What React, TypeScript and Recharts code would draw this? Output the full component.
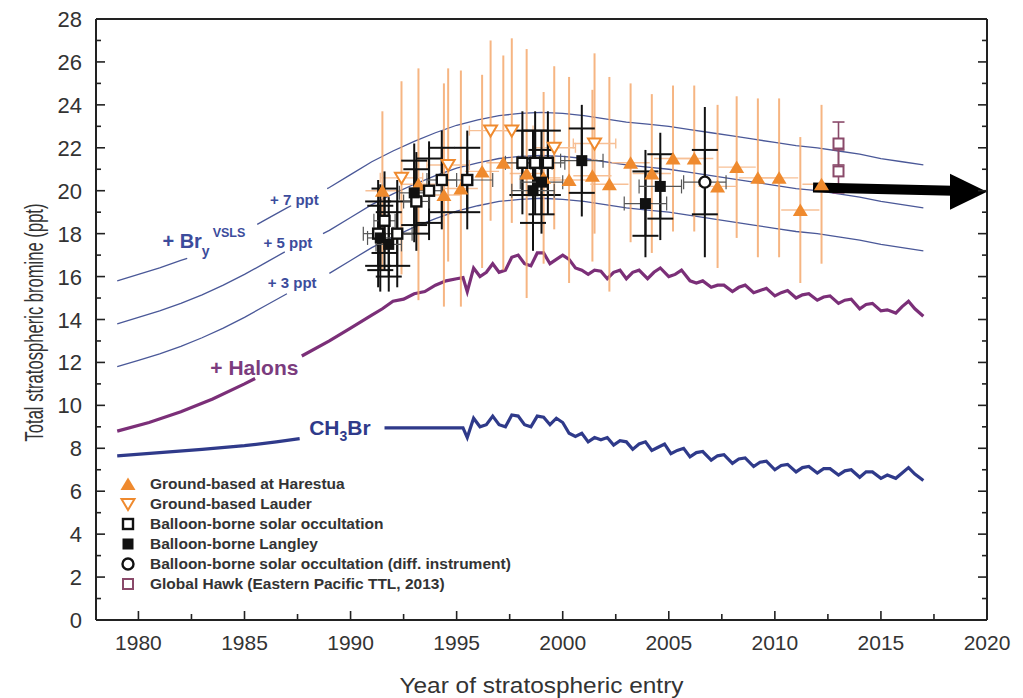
import { ComposedChart, Line, Scatter, XAxis, YAxis, ErrorBar } from "recharts";

// ---- axis ticks ----
const xTicks = [1980, 1982.5, 1985, 1987.5, 1990, 1992.5, 1995, 1997.5, 2000, 2002.5, 2005, 2007.5, 2010, 2012.5, 2015, 2017.5, 2020];
const yTicks = [0, 1, 2, 3, 4, 5, 6, 7, 8, 9, 10, 11, 12, 13, 14, 15, 16, 17, 18, 19, 20, 21, 22, 23, 24, 25, 26, 27, 28];

// ---- model curves: [year, ppt] (null = gap for a label) ----
const ch3br: [number, number | null][] = [
  [1979, 7.65], [1981, 7.8], [1983, 7.95], [1985, 8.12], [1986.5, 8.3], [1987.6, 8.45], [1989, null],
  [1991.6, 8.95], [1995.3, 8.95], [1995.5, 8.5], [1995.8, 9.4], [1996.1, 9.0], [1996.4, 9.1], [1996.7, 9.5],
  [1997.0, 9.1], [1997.3, 9.0], [1997.6, 9.55], [1997.9, 9.5], [1998.2, 9.1], [1998.5, 9.0], [1998.8, 9.5],
  [1999.1, 9.45], [1999.4, 9.1], [1999.7, 9.4], [2000.0, 9.2], [2000.3, 8.7], [2000.6, 8.55], [2000.9, 8.7],
  [2001.2, 8.3], [2001.5, 8.5], [2001.8, 8.4], [2002.1, 8.5], [2002.4, 8.15], [2002.7, 8.35], [2003.0, 8.3],
  [2003.3, 7.95], [2003.6, 8.2], [2003.9, 8.3], [2004.2, 7.9], [2004.5, 8.05], [2004.8, 8.2], [2005.1, 7.75],
  [2005.4, 7.9], [2005.7, 8.0], [2006.0, 7.6], [2006.3, 7.8], [2006.6, 7.85], [2007.0, 7.45], [2007.3, 7.65],
  [2007.6, 7.7], [2008.0, 7.3], [2008.3, 7.5], [2008.6, 7.55], [2009.0, 7.15], [2009.3, 7.35], [2009.6, 7.4],
  [2010.0, 7.0], [2010.3, 7.2], [2010.6, 7.25], [2011.0, 6.9], [2011.3, 7.1], [2011.6, 7.15], [2012.0, 6.85],
  [2012.3, 7.05], [2012.6, 7.05], [2013.0, 6.75], [2013.3, 6.95], [2013.6, 7.0], [2014.0, 6.65], [2014.3, 6.9],
  [2014.6, 6.9], [2015.0, 6.6], [2015.3, 6.75], [2015.7, 6.6], [2016.0, 6.85], [2016.3, 7.1], [2016.6, 6.8],
  [2017.0, 6.5],
];

const halons: [number, number | null][] = [
  [1979, 8.8], [1980.5, 9.2], [1982, 9.7], [1983.5, 10.3], [1985, 11.0], [1985.5, 11.25], [1986.5, null],
  [1987.7, 12.3], [1989, 13.0], [1990, 13.6], [1991, 14.2], [1991.5, 14.5], [1992, 14.85], [1992.5, 14.95],
  [1993, 15.2], [1993.5, 15.3], [1994, 15.6], [1994.5, 15.8], [1995, 15.9], [1995.3, 15.95], [1995.5, 15.3],
  [1995.8, 16.4], [1996.1, 16.0], [1996.4, 16.2], [1996.7, 16.6], [1997.0, 16.2], [1997.3, 16.3], [1997.6, 16.9],
  [1997.9, 17.0], [1998.2, 16.6], [1998.5, 16.5], [1998.8, 17.1], [1999.1, 17.1], [1999.4, 16.6], [1999.7, 16.8],
  [2000.0, 17.0], [2000.3, 16.8], [2000.6, 16.4], [2000.9, 16.3], [2001.2, 16.1], [2001.5, 16.3], [2001.8, 16.25],
  [2002.1, 15.9], [2002.4, 16.2], [2002.7, 16.3], [2003.0, 15.9], [2003.3, 16.2], [2003.6, 16.3], [2004.0, 15.9],
  [2004.3, 16.2], [2004.6, 16.4], [2005.0, 16.0], [2005.3, 16.1], [2005.6, 16.3], [2006.0, 15.8], [2006.3, 15.7],
  [2006.6, 15.8], [2007.0, 15.5], [2007.3, 15.6], [2007.6, 15.6], [2008.0, 15.3], [2008.3, 15.5], [2008.6, 15.6],
  [2009.0, 15.25], [2009.3, 15.35], [2009.6, 15.45], [2010.0, 15.1], [2010.3, 15.25], [2010.6, 15.35],
  [2011.0, 15.0], [2011.3, 15.15], [2011.6, 15.2], [2012.0, 14.9], [2012.3, 15.05], [2012.6, 15.1],
  [2013.0, 14.75], [2013.3, 14.9], [2013.6, 14.95], [2014.0, 14.5], [2014.3, 14.7], [2014.6, 14.75],
  [2015.0, 14.4], [2015.3, 14.45], [2015.7, 14.3], [2016.0, 14.6], [2016.3, 14.85], [2016.6, 14.5], [2017.0, 14.15],
];

const vsls3: [number, number | null][] = [
  [1979, 11.8], [1980, 12.1], [1981, 12.4], [1982, 12.75], [1983, 13.15], [1984, 13.6], [1985, 14.1], [1986, 14.65],
  [1987, 15.2], [1988, null], [1989, 16.15], [1990, 16.75], [1991, 17.35], [1992, 17.85], [1993, 18.3], [1994, 18.7],
  [1995, 19.05], [1996, 19.3], [1997, 19.5], [1998, 19.6], [1999, 19.65], [2000, 19.6], [2001, 19.5], [2002, 19.35],
  [2003, 19.2], [2004, 19.1], [2005, 19.0], [2006, 18.85], [2007, 18.7], [2008, 18.55], [2009, 18.4], [2010, 18.25],
  [2011, 18.1], [2012, 18.0], [2013, 17.85], [2014, 17.7], [2015, 17.5], [2016, 17.35], [2017, 17.2],
];

const vsls5: [number, number | null][] = [
  [1979, 13.8], [1980, 14.1], [1981, 14.4], [1982, 14.75], [1983, 15.15], [1984, 15.6], [1985, 16.1], [1986, 16.65],
  [1986.9, 17.15], [1988, null], [1988.7, 18.0], [1989, 18.15], [1990, 18.75], [1991, 19.35], [1992, 19.85],
  [1993, 20.3], [1994, 20.7], [1995, 21.05], [1996, 21.3], [1997, 21.5], [1998, 21.6], [1999, 21.65], [2000, 21.6],
  [2001, 21.5], [2002, 21.35], [2003, 21.2], [2004, 21.1], [2005, 21.0], [2006, 20.85], [2007, 20.7], [2008, 20.55],
  [2009, 20.4], [2010, 20.25], [2011, 20.1], [2012, 20.0], [2013, 19.85], [2014, 19.7], [2015, 19.5], [2016, 19.35],
  [2017, 19.2],
];

const vsls7: [number, number | null][] = [
  [1979, 15.8], [1980, 16.1], [1981, 16.4], [1982, 16.75], [1982.3, 16.85], [1983.5, null], [1985.6, 18.43],
  [1986, 18.65], [1987, 19.2], [1987.2, 19.3], [1988, null], [1988.9, 20.1], [1989, 20.15], [1990, 20.75],
  [1991, 21.35], [1992, 21.85], [1993, 22.3], [1994, 22.7], [1995, 23.05], [1996, 23.3], [1997, 23.5], [1998, 23.6],
  [1999, 23.65], [2000, 23.6], [2001, 23.5], [2002, 23.35], [2003, 23.2], [2004, 23.1], [2005, 23.0], [2006, 22.85],
  [2007, 22.7], [2008, 22.55], [2009, 22.4], [2010, 22.25], [2011, 22.1], [2012, 22.0], [2013, 21.85], [2014, 21.7],
  [2015, 21.5], [2016, 21.35], [2017, 21.2],
];

// ---- observations: [year, ppt, y error, x error] ----
const harestua: number[][] = [
  [1991.5, 20.0, 3.7, 0.8], [1993.2, 20.3, 5.4, 0.8], [1994.4, 19.8, 5.2, 0.8], [1995.2, 20.1, 5.5, 0.8],
  [1996.2, 20.9, 4.5, 0.8], [1997.2, 21.3, 5.0, 0.8], [1998.3, 20.8, 5.8, 0.8], [1999.1, 20.6, 4.0, 0.8],
  [2000.3, 20.5, 4.8, 0.9], [2001.4, 20.7, 4.0, 0.9], [2002.2, 20.3, 5.0, 0.9], [2003.2, 21.3, 3.7, 0.9],
  [2004.2, 20.8, 3.7, 0.9], [2005.2, 21.5, 3.4, 0.9], [2006.2, 21.5, 3.4, 0.9], [2007.3, 20.2, 3.8, 0.9],
  [2008.2, 21.1, 3.3, 0.9], [2009.2, 20.6, 3.7, 0.9], [2010.2, 20.6, 3.7, 0.9], [2011.2, 19.1, 3.4, 0.9],
  [2012.2, 20.3, 3.7, 0.9],
];
const lauder: number[][] = [
  [1992.4, 20.6, 4.5, 1.0], [1994.6, 21.2, 4.5, 1.0], [1996.6, 22.8, 4.2, 1.0], [1997.6, 22.8, 4.3, 1.0],
  [1999.6, 22.0, 3.8, 1.0], [2001.5, 22.2, 4.2, 1.0],
];
// [year, ppt, capped y error, long y error, x error]
const solarOcc: number[][] = [
  [1991.3, 18.0, 1.5, 2.5, 0.7], [1991.6, 18.6, 1.5, 2.3, 0.5], [1992.2, 18.0, 1.5, 2.5, 0.7],
  [1993.1, 19.5, 1.5, 2.3, 0.6], [1993.7, 20.0, 1.5, 2.3, 0.6], [1994.3, 20.5, 1.5, 2.3, 0.7],
  [1995.5, 20.5, 1.5, 2.3, 1.2], [1998.1, 21.3, 1.5, 2.4, 0.8], [1998.7, 21.3, 1.5, 2.4, 0.8],
  [1999.3, 21.3, 1.5, 2.4, 0.8],
];
const langley: number[][] = [
  [1991.4, 17.8, 1.5, 2.5, 0.6], [1991.8, 17.5, 1.5, 2.2, 0.6], [1993.0, 19.9, 1.5, 2.3, 0.7],
  [1998.6, 20.0, 1.5, 2.8, 1.0], [1999.0, 20.4, 1.5, 2.4, 1.0], [2000.9, 21.4, 1.5, 2.6, 1.0],
  [2003.9, 19.4, 1.5, 2.5, 1.0], [2004.6, 20.2, 1.5, 2.5, 1.0],
];
const diffInstr: number[][] = [[2006.7, 20.4, 1.5, 3.5, 1.0]];
const globalHawk: number[][] = [[2013.0, 22.2, 1.0, 0.15], [2013.0, 20.9, 1.0, 0.15]];

// arrow annotation
const arrowShaft: [number, number][] = [[2011.8, 20.15], [2018.4, 20.0]];
const arrowTip: [number, number][] = [[2020, 19.95]];

// in-plot labels: [year, ppt, kind]
const plotLabels: [number, number, string][] = [
  [1981.13, 17.35, "bry"],
  [1986.2, 19.35, "p7"],
  [1985.9, 17.35, "p5"],
  [1986.1, 15.45, "p3"],
  [1983.39, 11.4, "halons"],
  [1988.05, 8.6, "ch3br"],
];

const legendItems = [
  { name: "Ground-based at Harestua", marker: "triUp" },
  { name: "Ground-based Lauder", marker: "triDown" },
  { name: "Balloon-borne solar occultation", marker: "sqOpen" },
  { name: "Balloon-borne Langley", marker: "sqFilled" },
  { name: "Balloon-borne solar occultation (diff. instrument)", marker: "circle" },
  { name: "Global Hawk (Eastern Pacific TTL, 2013)", marker: "sqHawk" },
];

const AXIS = "#222";
const ORANGE = "#ef8a2e";
const ORANGE_BAR = "#f4a86c";
const ORANGE_HBAR = "#f7c096";
const NAVY = "#2f3a8a";
const PURPLE = "#7b2f78";
const THIN = "#4a5898";
const TEXT_BLUE = "#3c4c9c";
const HAWK = "#8a4a6a";
const SANS = "'Liberation Sans', Arial, sans-serif";

const toLine = (rows: [number, number | null][]) => rows.map(([x, y]) => ({ x, y }));
const toPts = (rows: number[][]) => rows.map(([x, y, ey, ex]) => ({ x, y, ey, ex }));
const toPts2 = (rows: number[][]) => rows.map(([x, y, ey, ey2, ex]) => ({ x, y, ey, ey2, ex }));

function Marker({ kind, cx, cy }: { kind: string; cx: number; cy: number }) {
  switch (kind) {
    case "triUp":
      return <polygon points={`${cx},${cy - 6.5} ${cx + 7.5},${cy + 6} ${cx - 7.5},${cy + 6}`} fill={ORANGE} />;
    case "triDown":
      return (
        <polygon points={`${cx - 6.5},${cy - 5} ${cx + 6.5},${cy - 5} ${cx},${cy + 6}`} fill="#fff" stroke={ORANGE} strokeWidth={2} />
      );
    case "sqOpen":
      return <rect x={cx - 5} y={cy - 5} width={10} height={10} fill="#fff" stroke="#111" strokeWidth={2.4} />;
    case "sqFilled":
      return <rect x={cx - 5.5} y={cy - 5.5} width={11} height={11} fill="#111" />;
    case "circle":
      return <circle cx={cx} cy={cy} r={5.5} fill="#fff" stroke="#111" strokeWidth={2.4} />;
    case "sqHawk":
      return <rect x={cx - 5} y={cy - 5} width={10} height={10} fill="#fff" stroke={HAWK} strokeWidth={2} />;
    default:
      return null;
  }
}

const shapeFor = (kind: string) => (p: any) => <Marker kind={kind} cx={p.cx} cy={p.cy} />;

function PlotLabel(p: any) {
  const kind = p.payload.kind;
  const { cx, cy } = p;
  if (kind === "bry") {
    return (
      <text x={cx} y={cy} fill={TEXT_BLUE} fontFamily={SANS} fontWeight="bold" fontSize={20}>
        + Br
        <tspan dy={8} fontSize={14}>y</tspan>
        <tspan dy={-19} dx={3} fontSize={12.5}>VSLS</tspan>
      </text>
    );
  }
  if (kind === "p7" || kind === "p5" || kind === "p3") {
    return (
      <text x={cx} y={cy} fill={TEXT_BLUE} fontFamily={SANS} fontWeight="bold" fontSize={15}>
        {`+ ${kind.slice(1)} ppt`}
      </text>
    );
  }
  if (kind === "halons") {
    return (
      <text x={cx} y={cy} fill="#7b3c7e" fontFamily={SANS} fontWeight="bold" fontSize={21}>
        + Halons
      </text>
    );
  }
  return (
    <text x={cx} y={cy} fill={NAVY} fontFamily={SANS} fontWeight="bold" fontSize={21}>
      CH<tspan dy={6} fontSize={14}>3</tspan>
      <tspan dy={-6}>Br</tspan>
    </text>
  );
}

function ArrowHead(p: any) {
  const { cx, cy } = p;
  return <polygon points={`${cx},${cy} ${cx - 37},${cy - 18} ${cx - 37},${cy + 18}`} fill="#000" />;
}

function BottomTick({ x, y, payload }: any) {
  const v = payload.value;
  const major = v % 5 === 0;
  return (
    <g>
      <line x1={x} x2={x} y1={y} y2={y - (major ? 9 : 6)} stroke={AXIS} strokeWidth={1.6} />
      {major && (
        <text x={x} y={y + 30} textAnchor="middle" fontSize={21} fill="#333" fontFamily={SANS}>
          {v}
        </text>
      )}
    </g>
  );
}
function TopTick({ x, y, payload }: any) {
  const major = payload.value % 5 === 0;
  return <line x1={x} x2={x} y1={y} y2={y + (major ? 9 : 6)} stroke={AXIS} strokeWidth={1.6} />;
}
function LeftTick({ x, y, payload }: any) {
  const v = payload.value;
  const major = v % 2 === 0;
  return (
    <g>
      <line x1={x} x2={x + (major ? 9 : 5)} y1={y} y2={y} stroke={AXIS} strokeWidth={1.6} />
      {major && (
        <text x={x - 14} y={y + 8} textAnchor="end" fontSize={22} fill="#333" fontFamily={SANS}>
          {v}
        </text>
      )}
    </g>
  );
}
function RightTick({ x, y, payload }: any) {
  const major = payload.value % 2 === 0;
  return <line x1={x} x2={x - (major ? 9 : 5)} y1={y} y2={y} stroke={AXIS} strokeWidth={1.6} />;
}

function Legend() {
  return (
    <div style={{ position: "absolute", left: 118, top: 474 }}>
      {legendItems.map((it) => (
        <div key={it.name} style={{ display: "flex", alignItems: "center", height: 20 }}>
          <svg width={22} height={20}>
            <Marker kind={it.marker} cx={10} cy={10} />
          </svg>
          <span
            style={{ marginLeft: 10, fontFamily: SANS, fontWeight: "bold", fontSize: 15.5, color: "#333", whiteSpace: "nowrap" }}
          >
            {it.name}
          </span>
        </div>
      ))}
    </div>
  );
}

export default function App() {
  const orangeV = { stroke: ORANGE_BAR, strokeWidth: 2, strokeOpacity: 0.85 };
  const orangeH = { stroke: ORANGE_HBAR, strokeWidth: 1.4 };
  const black = { stroke: "#111", strokeWidth: 2 };
  const blackH = { stroke: "#555", strokeWidth: 1.2 };
  return (
    <div style={{ position: "absolute", left: 0, top: 0, width: 1023, height: 698, background: "#fff" }}>
      <ComposedChart width={1023} height={698} margin={{ top: 18, right: 35, left: 0, bottom: 0 }}>
        <XAxis
          dataKey="x"
          type="number"
          domain={[1978, 2020]}
          ticks={xTicks}
          interval={0}
          height={78}
          tickSize={0}
          tickMargin={0}
          tick={<BottomTick />}
          axisLine={{ stroke: AXIS, strokeWidth: 2 }}
          allowDataOverflow
          label={{
            content: (props: any) => {
              const vb = props.viewBox;
              return (
                <text
                  x={vb.x + vb.width / 2}
                  y={vb.y + 73}
                  textAnchor="middle"
                  fontSize={22}
                  textLength={284}
                  lengthAdjust="spacingAndGlyphs"
                  fill="#333"
                  fontFamily={SANS}
                >
                  Year of stratospheric entry
                </text>
              );
            },
          }}
        />
        <XAxis
          xAxisId="top"
          orientation="top"
          type="number"
          domain={[1978, 2020]}
          ticks={xTicks}
          interval={0}
          height={1}
          tickSize={0}
          tickMargin={0}
          tick={<TopTick />}
          axisLine={{ stroke: AXIS, strokeWidth: 2 }}
          allowDataOverflow
        />
        <YAxis
          dataKey="y"
          type="number"
          domain={[0, 28]}
          ticks={yTicks}
          interval={0}
          width={96}
          tickSize={0}
          tickMargin={0}
          tick={<LeftTick />}
          axisLine={{ stroke: AXIS, strokeWidth: 2 }}
          allowDataOverflow
          label={{
            content: (props: any) => {
              const vb = props.viewBox;
              const cy = vb.y + vb.height / 2 + 3;
              return (
                <text
                  x={34}
                  y={cy}
                  transform={`rotate(-90 34 ${cy})`}
                  textAnchor="middle"
                  dominantBaseline="central"
                  fontSize={25}
                  textLength={238}
                  lengthAdjust="spacingAndGlyphs"
                  fill="#333"
                  fontFamily={SANS}
                >
                  Total stratospheric  bromine (ppt)
                </text>
              );
            },
          }}
        />
        <YAxis
          yAxisId="right"
          orientation="right"
          type="number"
          domain={[0, 28]}
          ticks={yTicks}
          interval={0}
          width={1}
          tickSize={0}
          tickMargin={0}
          tick={<RightTick />}
          axisLine={{ stroke: AXIS, strokeWidth: 2 }}
          allowDataOverflow
        />

        <Line data={toLine(vsls3)} dataKey="y" stroke={THIN} strokeWidth={1.3} dot={false} connectNulls={false} isAnimationActive={false} />
        <Line data={toLine(vsls5)} dataKey="y" stroke={THIN} strokeWidth={1.3} dot={false} connectNulls={false} isAnimationActive={false} />
        <Line data={toLine(vsls7)} dataKey="y" stroke={THIN} strokeWidth={1.3} dot={false} connectNulls={false} isAnimationActive={false} />
        <Line data={toLine(halons)} dataKey="y" stroke={PURPLE} strokeWidth={3.2} dot={false} connectNulls={false} isAnimationActive={false} />
        <Line data={toLine(ch3br)} dataKey="y" stroke={NAVY} strokeWidth={3.2} dot={false} connectNulls={false} isAnimationActive={false} />

        <Scatter data={toPts(harestua)} dataKey="y" shape={shapeFor("triUp")} isAnimationActive={false}>
          <ErrorBar dataKey="ey" direction="y" width={0} {...orangeV} />
          <ErrorBar dataKey="ex" direction="x" width={0} {...orangeH} />
        </Scatter>
        <Scatter data={toPts(lauder)} dataKey="y" shape={shapeFor("triDown")} isAnimationActive={false}>
          <ErrorBar dataKey="ey" direction="y" width={0} {...orangeV} />
          <ErrorBar dataKey="ex" direction="x" width={5} {...orangeH} />
        </Scatter>
        <Scatter data={toPts2(solarOcc)} dataKey="y" shape={shapeFor("sqOpen")} isAnimationActive={false}>
          <ErrorBar dataKey="ey2" direction="y" width={0} {...black} />
          <ErrorBar dataKey="ey" direction="y" width={13} {...black} />
          <ErrorBar dataKey="ex" direction="x" width={7} {...blackH} />
        </Scatter>
        <Scatter data={toPts2(langley)} dataKey="y" shape={shapeFor("sqFilled")} isAnimationActive={false}>
          <ErrorBar dataKey="ey2" direction="y" width={0} {...black} />
          <ErrorBar dataKey="ey" direction="y" width={13} {...black} />
          <ErrorBar dataKey="ex" direction="x" width={7} {...blackH} />
        </Scatter>
        <Scatter data={toPts2(diffInstr)} dataKey="y" shape={shapeFor("circle")} isAnimationActive={false}>
          <ErrorBar dataKey="ey2" direction="y" width={0} {...black} />
          <ErrorBar dataKey="ey" direction="y" width={13} {...black} />
          <ErrorBar dataKey="ex" direction="x" width={7} {...blackH} />
        </Scatter>
        <Scatter data={toPts(globalHawk)} dataKey="y" shape={shapeFor("sqHawk")} isAnimationActive={false}>
          <ErrorBar dataKey="ey" direction="y" width={6} stroke={HAWK} strokeWidth={1.6} />
        </Scatter>

        <Line
          data={arrowShaft.map(([x, y]) => ({ x, y }))}
          dataKey="y"
          stroke="#000"
          strokeWidth={10}
          strokeLinecap="butt"
          dot={false}
          isAnimationActive={false}
        />
        <Scatter data={arrowTip.map(([x, y]) => ({ x, y }))} dataKey="y" shape={ArrowHead} isAnimationActive={false} />
        <Scatter
          data={plotLabels.map(([x, y, kind]) => ({ x, y, kind }))}
          dataKey="y"
          shape={PlotLabel}
          isAnimationActive={false}
        />
      </ComposedChart>
      <Legend />
    </div>
  );
}
